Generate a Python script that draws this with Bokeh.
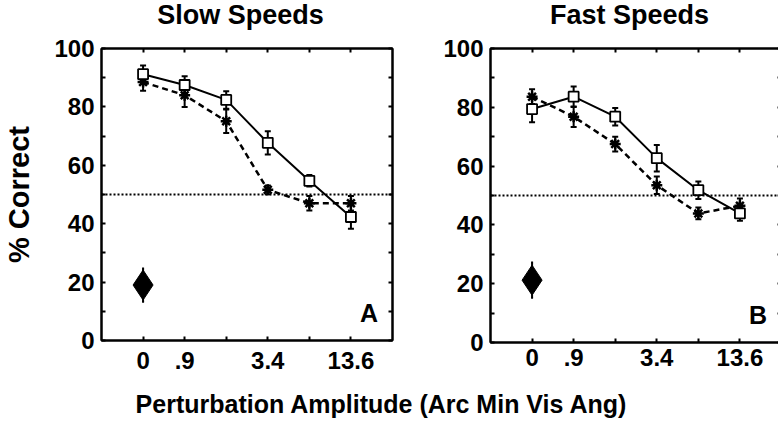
from bokeh.plotting import figure
from bokeh.models import (ColumnDataSource, Whisker, TeeHead, FixedTicker, LinearAxis,
                          Span, Label, Div, CustomJSTickFormatter)
from bokeh.layouts import row, column
from bokeh.embed import file_html
from bokeh.resources import INLINE

# ---------------- data ----------------
x_pos = [0, 1, 2, 3, 4, 5]
x_tick_pos = [0, 1, 3, 5]
x_tick_labels = ["0", ".9", "3.4", "13.6"]
x_minor_pos = [2, 4]
y_ticks = [0, 20, 40, 60, 80, 100]
y_minor = [10, 30, 50, 70, 90]

slow_square = [91.2, 87.5, 82.4, 67.7, 54.7, 42.3]
slow_square_err = [3.0, 3.0, 3.0, 4.0, 2.0, 4.0]
slow_star = [88.5, 84.0, 75.1, 51.6, 47.0, 47.0]
slow_star_err = [3.0, 4.0, 4.0, 1.5, 2.5, 2.5]
slow_diamond = [19.0]
slow_diamond_err = [5.7]

fast_square = [79.4, 83.6, 76.8, 62.7, 51.8, 43.9]
fast_square_err = [4.5, 3.5, 3.0, 4.5, 3.0, 2.5]
fast_star = [83.6, 76.8, 67.5, 53.5, 43.9, 46.5]
fast_star_err = [2.5, 3.5, 2.5, 3.0, 2.0, 2.5]
fast_diamond = [21.2]
fast_diamond_err = [6.0]

chance_level = 50
FONT = "Liberation Sans"


def style_axis(ax, show_labels=True, standoff=7):
    ax.axis_line_width = 2
    ax.axis_line_color = "black"
    ax.major_tick_in = 4
    ax.major_tick_out = 0
    ax.minor_tick_in = 4
    ax.minor_tick_out = 0
    ax.major_tick_line_width = 2
    ax.minor_tick_line_width = 2
    ax.major_label_text_font = FONT
    ax.major_label_text_font_style = "bold"
    ax.major_label_text_color = "black"
    if show_labels:
        ax.major_label_text_font_size = "24px"
        ax.major_label_standoff = standoff
    else:
        ax.formatter = CustomJSTickFormatter(code="return ''")
        ax.major_label_text_font_size = "1px"
        ax.major_label_standoff = 0


def make_panel(sq, sq_err, st, st_err, dm, dm_err, letter, fh, top, bottom,
               left, right, xstand, ylabel=None):
    p = figure(frame_width=291, frame_height=fh, x_range=(-1, 6), y_range=(0, 100),
               output_backend="svg", toolbar_location=None,
               min_border_left=left, min_border_right=right, min_border_top=top,
               min_border_bottom=bottom)
    p.grid.visible = False
    p.outline_line_color = "black"
    p.outline_line_width = 2
    p.background_fill_color = "white"
    p.border_fill_color = "white"

    xt = FixedTicker(ticks=x_tick_pos, minor_ticks=x_minor_pos)
    yt = FixedTicker(ticks=y_ticks, minor_ticks=y_minor)
    p.xaxis.ticker = xt
    p.yaxis.ticker = yt
    p.xaxis.major_label_overrides = {k: v for k, v in zip(x_tick_pos, x_tick_labels)}
    style_axis(p.xaxis[0], True, xstand)
    style_axis(p.yaxis[0], True, 7)
    if ylabel:
        p.yaxis.axis_label = ylabel
        p.yaxis.axis_label_text_font = FONT
        p.yaxis.axis_label_text_font_style = "bold"
        p.yaxis.axis_label_text_font_size = "29px"
        p.yaxis.axis_label_standoff = 16
        p.yaxis.axis_label_text_color = "black"

    top_ax = LinearAxis(ticker=FixedTicker(ticks=x_tick_pos, minor_ticks=x_minor_pos))
    right_ax = LinearAxis(ticker=FixedTicker(ticks=y_ticks, minor_ticks=y_minor))
    style_axis(top_ax, False)
    style_axis(right_ax, False)
    p.add_layout(top_ax, "above")
    p.add_layout(right_ax, "right")

    p.add_layout(Span(location=chance_level, dimension="width", line_color="black",
                      line_width=2.2, line_dash="2 2"))

    src_sq = ColumnDataSource(dict(x=x_pos, y=sq,
                                   lo=[a - b for a, b in zip(sq, sq_err)],
                                   hi=[a + b for a, b in zip(sq, sq_err)]))
    src_st = ColumnDataSource(dict(x=x_pos, y=st,
                                   lo=[a - b for a, b in zip(st, st_err)],
                                   hi=[a + b for a, b in zip(st, st_err)]))
    src_dm = ColumnDataSource(dict(x=[0], y=dm,
                                   lo=[a - b for a, b in zip(dm, dm_err)],
                                   hi=[a + b for a, b in zip(dm, dm_err)]))

    p.line("x", "y", source=src_st, line_color="black", line_width=2.5, line_dash="6 4")
    p.line("x", "y", source=src_sq, line_color="black", line_width=2)

    for src in (src_st, src_sq):
        p.add_layout(Whisker(source=src, base="x", lower="lo", upper="hi",
                             dimension="height", line_color="black", line_width=2,
                             upper_head=TeeHead(size=6, line_width=2, line_color="black"),
                             lower_head=TeeHead(size=6, line_width=2, line_color="black")))
    p.add_layout(Whisker(source=src_dm, base="x", lower="lo", upper="hi",
                         dimension="height", line_color="black", line_width=2,
                         upper_head=TeeHead(size=2, line_width=2, line_color="black"),
                         lower_head=TeeHead(size=2, line_width=2, line_color="black")))

    p.scatter("x", "y", source=src_st, marker="asterisk", size=11, line_color="black",
              line_width=2.5)
    p.scatter("x", "y", source=src_sq, marker="square", size=10, line_color="black",
              fill_color="white", line_width=1.8)
    p.scatter("x", "y", source=src_dm, marker="diamond", size=30, line_color="black",
              fill_color="black")

    p.add_layout(Label(x=5.65, y=4.5, text=letter, text_align="right",
                       text_baseline="bottom", text_font=FONT, text_font_style="bold",
                       text_font_size="25px", text_color="black"))
    return p


def title_div(text, width):
    return Div(text=text, width=width, height=30, margin=(0, 0, 0, 0),
               styles={"text-align": "center", "font-family": FONT, "font-weight": "bold",
                       "font-size": "27px", "line-height": "30px", "color": "black",
                       "white-space": "nowrap"})


# frames at x 95-386 / 484-775, y 45-337 / 48-342
p1 = make_panel(slow_square, slow_square_err, slow_star, slow_star_err,
                slow_diamond, slow_diamond_err, "A", 292, 15, 43, 95, 9, 11, "% Correct")
p2 = make_panel(fast_square, fast_square_err, fast_star, fast_star_err,
                fast_diamond, fast_diamond_err, "B", 294, 18, 38, 89, 2, 6)

titles = row(title_div("Slow Speeds", 481), title_div("Fast Speeds", 297))

xlabel = Div(text="Perturbation Amplitude (Arc Min Vis Ang)",
             width=762, height=25, margin=(12, 0, 0, 0),
             styles={"text-align": "center", "font-family": FONT, "font-weight": "bold",
                     "font-size": "25px", "line-height": "25px", "color": "black",
                     "white-space": "nowrap"})

layout = column(titles, row(p1, p2), xlabel)

open("out.html", "w").write(file_html(layout, INLINE))
